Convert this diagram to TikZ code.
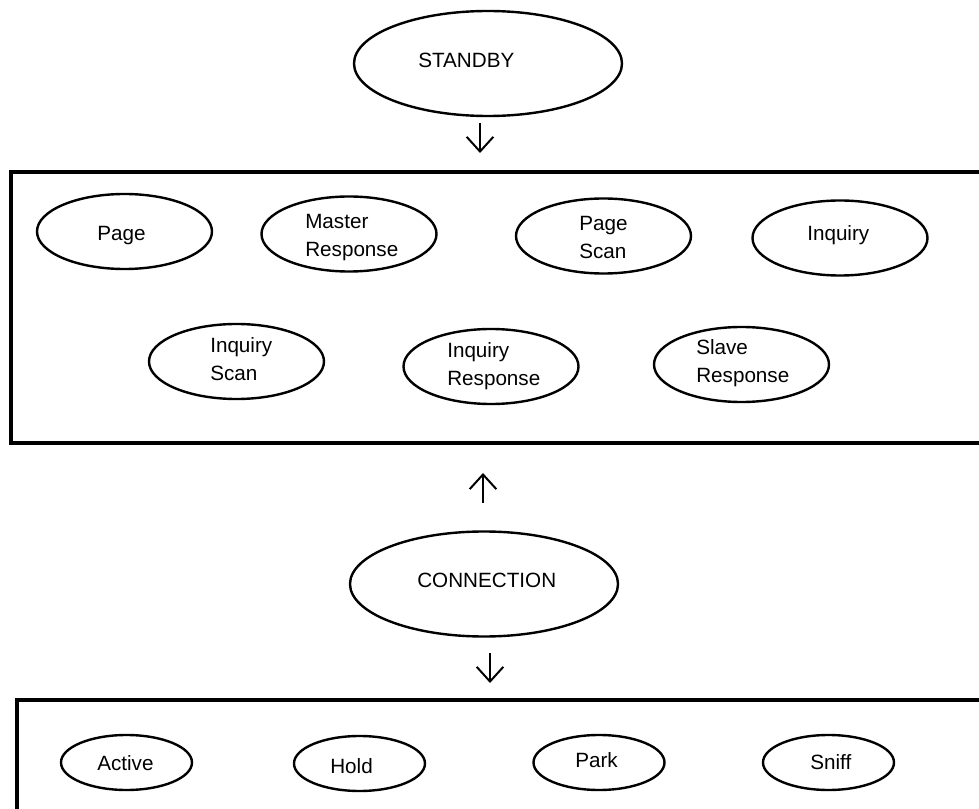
\documentclass[tikz,border=0pt]{standalone}
\usepackage{fontspec}
\setmainfont{Liberation Sans}
\usetikzlibrary{shapes.geometric,arrows.meta}

\begin{document}
\begin{tikzpicture}[x=0.75pt,y=-0.75pt,
  bigstate/.style={draw, ellipse, line width=1.8pt, inner sep=0pt,
    minimum width=268*0.75pt, minimum height=105*0.75pt},
  substate/.style={draw, ellipse, line width=1.8pt, inner sep=0pt,
    minimum width=175*0.75pt, minimum height=75*0.75pt},
  modestate/.style={draw, ellipse, line width=1.8pt, inner sep=0pt,
    minimum width=131*0.75pt, minimum height=55*0.75pt},
  groupbox/.style={draw, rectangle, line width=2.4pt, inner sep=0pt},
  lbl/.style={anchor=base west, inner sep=0pt, font=\fontsize{15.5}{21}\selectfont},
  flow/.style={line width=1.5pt, -{Straight Barb[length=11pt,width=20pt]}}
]
\useasboundingbox (0,0) rectangle (979,809);
\clip (0,0) rectangle (979,809);
\fill[white] (0,0) rectangle (979,809);

% top-level states
\node[bigstate] (standby) at (488,63.5) {};
\node[lbl] (standbytxt) at (418,68) {STANDBY};
\node[bigstate] (connection) at (484,584) {};
\node[lbl] (connectiontxt) at (417,587) {CONNECTION};

% group frames (open to the right and below)
\node[groupbox, minimum width=989*0.75pt, minimum height=271*0.75pt] (standbybox) at (505.5,307.5) {};
\node[groupbox, minimum width=983*0.75pt, minimum height=140*0.75pt] (connbox) at (508.5,770) {};

% standby sub-states
\node[substate] (page) at (124.5,231.5) {};
\node[lbl] (pagetxt) at (97,241) {Page};
\node[substate] (masterresp) at (349,234) {};
\node[lbl] (masterresptxt) at (305,229) {\begin{tabular}[t]{@{}l@{}}Master\\Response\end{tabular}};
\node[substate] (pagescan) at (603.5,236) {};
\node[lbl] (pagescantxt) at (579,231) {\begin{tabular}[t]{@{}l@{}}Page\\Scan\end{tabular}};
\node[substate] (inquiry) at (840,238) {};
\node[lbl] (inquirytxt) at (807,241) {Inquiry};
\node[substate] (inqscan) at (236.5,361.5) {};
\node[lbl] (inqscantxt) at (210,353) {\begin{tabular}[t]{@{}l@{}}Inquiry\\Scan\end{tabular}};
\node[substate] (inqresp) at (491,366.5) {};
\node[lbl] (inqresptxt) at (447,358) {\begin{tabular}[t]{@{}l@{}}Inquiry\\Response\end{tabular}};
\node[substate] (slaveresp) at (741.5,364.5) {};
\node[lbl] (slaveresptxt) at (696,355) {\begin{tabular}[t]{@{}l@{}}Slave\\Response\end{tabular}};

% connection modes
\node[modestate] (active) at (126.5,762.5) {};
\node[lbl] (activetxt) at (97,770) {Active};
\node[modestate] (hold) at (359.5,763.5) {};
\node[lbl] (holdtxt) at (330,773) {Hold};
\node[modestate] (park) at (599,762.5) {};
\node[lbl] (parktxt) at (575,767) {Park};
\node[modestate] (sniff) at (828.5,762.5) {};
\node[lbl] (snifftxt) at (810,769) {Sniff};

% transition arrows
\coordinate (d1a) at (480,123);
\coordinate (d1b) at (480,153);
\coordinate (u1a) at (483,503);
\coordinate (u1b) at (483,473);
\coordinate (d2a) at (490,653);
\coordinate (d2b) at (490,683);
\draw[flow] (d1a) -- (d1b);
\draw[flow] (u1a) -- (u1b);
\draw[flow] (d2a) -- (d2b);
\end{tikzpicture}
\end{document}
